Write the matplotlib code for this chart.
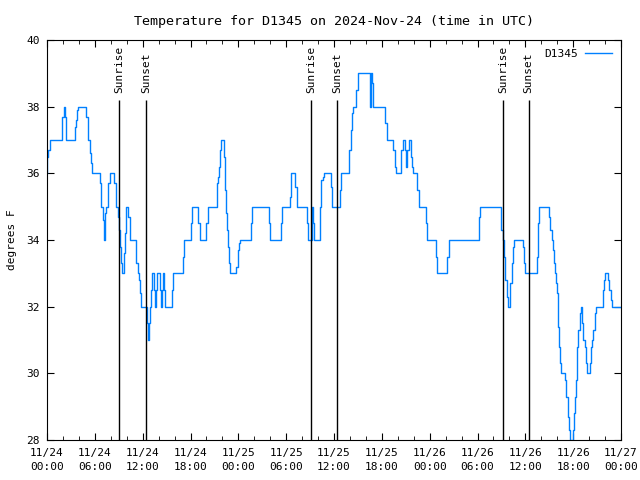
import numpy as np
import pandas as pd
import matplotlib
matplotlib.use('Agg')
import matplotlib.pyplot as plt
import matplotlib.dates as mdates

# temperature readings: hours after 2024-11-24 00:00 UTC, value held until next reading
hours = [0.0, 0.05, 0.1, 0.35, 1.9, 2.1, 2.2, 2.4, 3.45, 3.65, 3.8, 3.95,
         4.95, 5.1, 5.35, 5.5, 5.65, 6.65, 6.8, 7.0, 7.1, 7.25, 7.4, 7.7, 7.9,
         8.45, 8.6, 8.85, 9.0, 9.15, 9.3, 9.45, 9.65, 9.8, 9.95, 10.2, 10.35, 10.45,
         11.2, 11.4, 11.55, 11.7, 11.85, 12.5, 12.65, 12.8, 12.9, 13.05, 13.2,
         13.45, 13.55, 13.7, 13.85, 14.15, 14.25, 14.4, 14.55, 14.7, 14.85,
         15.7, 15.85, 17.0, 17.15, 18.0, 18.15, 19.0, 19.15, 20.0, 20.2,
         21.3, 21.45, 21.6, 21.75, 21.85, 22.15, 22.3, 22.45, 22.6, 22.75, 22.85, 22.9,
         23.75, 23.9, 24.0, 24.1, 24.2, 25.55, 25.7, 27.8, 28.0, 29.3, 29.45,
         30.5, 30.65, 31.15, 31.35, 32.6, 32.8, 33.2, 33.3, 33.4, 33.5,
         34.25, 34.3, 34.4, 34.6, 34.8, 35.6, 35.75, 36.7, 36.85,
         37.9, 38.1, 38.2, 38.35, 38.8, 38.95, 40.5, 40.65, 40.8, 40.95,
         42.4, 42.6, 43.45, 43.6, 43.75, 44.45, 44.6, 44.9, 45.05, 45.2, 45.35,
         45.6, 45.75, 45.9, 46.45, 46.65, 47.5, 47.7, 48.75, 48.95, 50.2, 50.4,
         54.2, 54.35, 57.0, 57.15, 57.3, 57.5, 57.65, 57.85, 58.1, 58.3, 58.45, 58.6,
         59.7, 59.85, 60.0, 61.5, 61.6, 61.75, 63.0, 63.15, 63.3, 63.45, 63.6, 63.75,
         63.9, 64.0, 64.1, 64.25, 64.4, 64.5, 65.0, 65.15, 65.3, 65.45, 65.6,
         65.95, 66.1, 66.25, 66.4, 66.5, 66.65, 66.8, 66.95, 67.05, 67.2, 67.45,
         67.6, 67.7, 68.1, 68.25, 68.4, 68.55, 68.7, 68.85, 69.7, 69.85, 69.95,
         70.4, 70.55, 70.7, 70.85, 72.0]
temps = [36, 36.5, 36.7, 37, 37.7, 38, 37.7, 37, 37.4, 37.6, 37.9, 38,
         37.7, 37, 36.6, 36.3, 36, 35.7, 35, 34.6, 34, 34.8, 35, 35.7, 36,
         35.7, 35, 34.7, 34.3, 33.8, 33.3, 33, 33.6, 34.2, 35, 34.7, 34.3, 34,
         33.3, 33, 32.8, 32.4, 32, 31.5, 31, 31.5, 32, 32.5, 33,
         32.5, 32, 32.5, 33, 32.5, 32, 32.5, 33, 32.5, 32,
         32.5, 33, 33.5, 34, 34.5, 35, 34.5, 34, 34.5, 35,
         35.7, 35.9, 36.2, 36.7, 37, 36.5, 35.5, 34.8, 34.3, 33.8, 33.3, 33,
         33.2, 33.5, 33.7, 33.9, 34, 34.5, 35, 34.5, 34, 34.5, 35,
         35.3, 36, 35.6, 35, 34.5, 34, 34.5, 35, 34.5, 34,
         34.3, 35, 35.8, 35.9, 36, 35.6, 35, 35.5, 36,
         36.7, 37.3, 37.8, 38, 38.5, 39, 38, 39, 38.7, 38,
         37.5, 37, 36.7, 36.2, 36, 36.7, 37, 36.7, 36.2, 36.7, 37,
         36.5, 36.2, 36, 35.5, 35, 34.5, 34, 33.5, 33, 33.5, 34,
         34.7, 35, 34.3, 34, 33.5, 32.8, 32.3, 32, 32.7, 33.3, 33.8, 34,
         33.8, 33.3, 33, 33.5, 34.5, 35, 34.7, 34.3, 34, 33.7, 33.3, 33,
         32.7, 32.4, 31.4, 30.8, 30.3, 30, 29.8, 29.3, 28.7, 28.3, 28,
         28.3, 28.8, 29.3, 29.8, 30.8, 31.3, 31.8, 32, 31.5, 31, 30.8,
         30.3, 30, 30.3, 30.8, 31, 31.3, 31.8, 32, 32.5, 32.8, 33,
         32.8, 32.5, 32.2, 32, 32]

sun_hours = [9.03, 12.45, 33.1, 36.4, 57.2, 60.4]
sun_labels = ['Sunrise', 'Sunset', 'Sunrise', 'Sunset', 'Sunrise', 'Sunset']

base = pd.Timestamp('2024-11-24 00:00')
times = base + pd.to_timedelta(hours, unit='h')
sun_times = base + pd.to_timedelta(sun_hours, unit='h')

plt.rcParams['font.family'] = 'DejaVu Sans Mono'
plt.rcParams['font.size'] = 8

fig = plt.figure(figsize=(6.4, 4.8), dpi=100)
ax = fig.add_axes([47/640, 40/480, 574/640, 400/480])

ax.plot(times, temps, drawstyle='steps-post', color='#0080ff', lw=1.0, label='D1345')

for t, lab in zip(sun_times, sun_labels):
    ax.vlines(t, 28, 38.2, color='black', lw=1.0)
    ax.text(t, 38.4, lab, rotation=90, ha='center', va='bottom')

ax.set_xlim(base, base + pd.Timedelta(hours=72))
ax.set_ylim(28, 40)
ax.set_yticks(np.arange(28, 41, 2))
ax.xaxis.set_major_locator(mdates.HourLocator(byhour=[0, 6, 12, 18]))
ax.xaxis.set_minor_locator(mdates.HourLocator(interval=2))
ax.xaxis.set_major_formatter(mdates.DateFormatter('%m/%d\n%H:%M'))
for lbl in ax.get_xticklabels():
    lbl.set_linespacing(1.5)
ax.tick_params(which='both', direction='in', top=True, right=True)
ax.tick_params(which='major', length=5)
ax.tick_params(which='minor', length=3)
ax.tick_params(axis='x', which='major', pad=6)
ax.tick_params(axis='y', which='major', pad=5)

ax.set_title('Temperature for D1345 on 2024-Nov-24 (time in UTC)', pad=11)
ax.set_ylabel('degrees F', labelpad=7)
ax.legend(loc='upper right', frameon=False, markerfirst=False, handlelength=2.4,
          handletextpad=0.7, borderaxespad=0.4)

fig.savefig('out.png', dpi=100)
